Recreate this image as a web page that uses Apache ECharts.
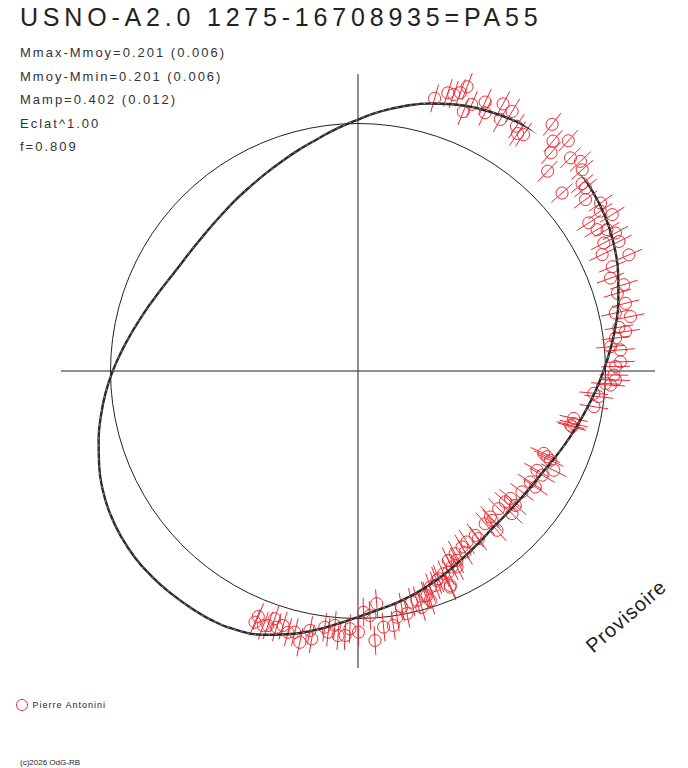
<!DOCTYPE html>
<html>
<head>
<meta charset="utf-8">
<title>USNO-A2.0 1275-16708935=PA55</title>
<script src="https://cdn.jsdelivr.net/npm/echarts@6.0.0/dist/echarts.min.js"></script>
<style>
	html, body {margin: 0; padding: 0; background: #fff;}
	#chart_polar {width: 688px; height: 768px;}
	/* the original plot spaces its letters out, svg text lets css do that */
	#chart_polar text[style*="25px"] {letter-spacing: 4.8px;}
	#chart_polar text[style*="13px"] {letter-spacing: 2px;}
	#chart_polar text[style*="20px"] {letter-spacing: 1px;}
	#chart_polar text[style*=" 9px"], #chart_polar text[style*=":9px"] {letter-spacing: 1px;}
</style>
</head>
<body>
<div id="chart_polar"></div>
<script>
var title_text = "USNO-A2.0 1275-16708935=PA55";
var stats_lines = ["Mmax-Mmoy=0.201 (0.006)", "Mmoy-Mmin=0.201 (0.006)", "Mamp=0.402 (0.012)", "Eclat^1.00", "f=0.809"];
var observer = "Pierre Antonini";
var credit = "(c)2026 OdG-RB";
var stamp = "Provisoire";

// fitted curve, phase in degrees, flux relative to the mean (circle = 1)
var curve_phase = [0, 5, 10, 15, 20, 25, 30, 35, 40, 45, 50, 55, 60, 65, 70, 75, 80, 85, 90,
	95, 100, 105, 110, 115, 120, 125, 130, 135, 140, 145, 150, 155, 160, 165, 170, 175, 180,
	185, 190, 195, 200, 205, 210, 215, 220, 225, 230, 235, 240, 245, 250, 255, 260, 265, 270,
	275, 280, 285, 290, 295, 300, 305, 310, 315, 320, 325, 330, 335, 340, 345, 350, 355, 360];
var curve_flux = [0.992, 1.024, 1.057, 1.089, 1.119, 1.147, 1.170, 1.187, 1.200, 1.208, 1.209, 1.200, 1.186, 1.168, 1.146, 1.119, 1.087, 1.053, 1.016,
	0.983, 0.951, 0.925, 0.901, 0.881, 0.864, 0.851, 0.840, 0.833, 0.830, 0.832, 0.838, 0.852, 0.872, 0.897, 0.925, 0.957, 0.991,
	1.024, 1.055, 1.085, 1.113, 1.138, 1.156, 1.168, 1.175, 1.176, 1.174, 1.171, 1.167, 1.155, 1.134, 1.101, 1.065, 1.028, 0.994,
	0.968, 0.947, 0.926, 0.905, 0.884, 0.864, 0.849, 0.837, 0.833, 0.834, 0.839, 0.848, 0.864, 0.885, 0.908, 0.933, 0.962, 0.992];

// observations (Pierre Antonini)
var obs_phase = [74.3, 72.1, 70.9, 69.8, 69.0, 67.9, 66.9, 64.7, 63.8, 61.5, 59.3, 60.5, 57.1, 56.1, 55.0, 51.8, 49.7, 47.6, 48.5, 45.1,
	43.3, 46.5, 41.9, 39.9, 38.8, 41.1, 37.0, 34.7, 33.4, 31.6, 32.7, 30.6, 29.6, 28.2, 27.5, 26.4, 25.5, 23.2,
	22.3, 20.2, 18.0, 16.7, 14.2, 12.7, 11.3, 9.5, 8.4, 7.3, 5.5, 4.6, 2.0, 1.0, 359.1, 358.0, 356.8, 357.1, 354.6, 353.9, 351.4, 347.6, 345.4,
	345.7, 346.3, 336.1, 335.6, 335.1, 333.1, 331.0, 330.5, 327.2, 326.8, 323.6, 320.1, 318.4, 319.5, 317.2, 315.6, 312.2, 311.9, 309.8, 311.1,
	305.5, 305.7, 302.5, 300.6, 300.6, 298.0, 297.6, 295.5, 295.6, 292.9, 290.6, 288.5, 293.3, 286.7,
	247.9, 247.7, 249.6, 250.5, 251.4, 252.4, 253.6, 255.0, 256.4, 257.9, 259.5, 260.2, 262.6, 263.5, 264.8, 265.7, 267.2, 268.2, 270.1,
	271.3, 272.8, 274.6, 273.6, 275.7, 277.9, 279.0, 280.5, 281.4, 283.1, 284.4, 285.1, 287.1, 287.5, 289.8, 291.2, 293.1, 294.2, 296.8];
var obs_flux = [1.144, 1.181, 1.182, 1.198, 1.230, 1.131, 1.171, 1.202, 1.163, 1.228, 1.220, 1.168, 1.178, 1.156, 1.166, 1.268, 1.218, 1.260, 1.177, 1.216,
	1.235, 1.113, 1.217, 1.180, 1.180, 1.094, 1.151, 1.192, 1.173, 1.206, 1.108, 1.122, 1.157, 1.180, 1.120, 1.177, 1.093, 1.191,
	1.111, 1.087, 1.129, 1.094, 1.115, 1.066, 1.123, 1.069, 1.093, 1.049, 1.025, 1.064, 1.061, 1.041, 1.034, 1.041, 1.022, 1.001, 0.957, 0.978, 0.964, 0.892, 0.894,
	0.886, 0.897, 0.821, 0.839, 0.857, 0.887, 0.827, 0.855, 0.828, 0.856, 0.823, 0.803, 0.796, 0.836, 0.848, 0.795, 0.796, 0.811, 0.803, 0.854,
	0.816, 0.834, 0.819, 0.826, 0.850, 0.836, 0.863, 0.848, 0.878, 0.889, 0.904, 0.921, 0.943, 0.947,
	1.071, 1.097, 1.098, 1.091, 1.056, 1.086, 1.072, 1.093, 1.086, 1.121, 1.066, 1.098, 1.044, 1.062, 1.032, 1.072, 1.070, 1.042, 1.055,
	0.975, 0.989, 0.943, 1.091, 1.040, 1.038, 1.007, 0.970, 1.000, 0.959, 0.957, 0.989, 0.949, 0.972, 0.921, 0.900, 0.949, 0.891, 0.887];
var obs_err = 0.058;

var red = "#ec2a32";
var ink = "#222";
var font = "Liberation Sans";

function pairs(radius, angle){
	var out = [];
	for (var i = 0; i < radius.length; i++) out.push([radius[i], angle[i]]);
	return out;
}

function render_obs(params, api){
	var r = api.value(0), a = api.value(1);
	var c = api.coord([r, a]);
	var p1 = api.coord([r - obs_err, a]);
	var p2 = api.coord([r + obs_err, a]);
	return {
		type: "group",
		children: [
			{type: "line", shape: {x1: p1[0], y1: p1[1], x2: p2[0], y2: p2[1]}, style: {stroke: red, lineWidth: 1}},
			{type: "circle", shape: {cx: c[0], cy: c[1], r: 6}, style: {fill: "none", stroke: red, lineWidth: 1}}
		]
	};
}

function init_polar_chart(){
	var myChart = echarts.init(document.getElementById("chart_polar"), null, {renderer: "svg"});

	var graphics = [
		{type: "text", left: 20, top: 4, style: {text: title_text, fontSize: 25, fontFamily: font, fill: ink}},
		{type: "text", left: 20, top: 758, style: {text: credit, fontSize: 8, fontFamily: font, fill: ink}},
		{type: "text", x: 626, y: 616, rotation: 41 * Math.PI / 180,
			style: {text: stamp, fontSize: 20, fontFamily: font, fill: ink, align: "center", verticalAlign: "middle"}}
	];
	for (var i = 0; i < stats_lines.length; i++){
		graphics.push({type: "text", left: 20, top: 46 + i * 23.5, style: {text: stats_lines[i], fontSize: 13, fontFamily: font, fill: "#333"}});
	}

	var options = {
		animation: false,
		backgroundColor: "#fff",
		graphic: graphics,
		legend: {
			left: 11, top: 694, itemWidth: 11, itemHeight: 11, icon: "circle",
			data: [observer], selectedMode: false,
			itemStyle: {color: "rgba(0,0,0,0)", borderColor: red, borderWidth: 1},
			textStyle: {fontSize: 9, fontFamily: font, color: ink}
		},
		polar: {center: [358, 371], radius: 297},
		angleAxis: {
			type: "value", min: 0, max: 360, interval: 90, startAngle: 0, clockwise: false,
			axisLine: {show: false}, axisTick: {show: false}, axisLabel: {show: false},
			splitLine: {show: true, lineStyle: {color: ink, width: 1}}
		},
		radiusAxis: {
			type: "value", min: 0, max: 1.2, interval: 1,
			axisLine: {show: false}, axisTick: {show: false}, axisLabel: {show: false},
			splitLine: {show: true, lineStyle: {color: ["rgba(0,0,0,0)", ink, "rgba(0,0,0,0)"], width: 1}}
		},
		series: [
			{name: "fit", type: "line", coordinateSystem: "polar", data: pairs(curve_flux, curve_phase),
				smooth: 0.5, showSymbol: false, clip: false, silent: true,
				lineStyle: {color: "#2a2a2a", width: 2.4}},
			{name: "fit_core", type: "line", coordinateSystem: "polar", data: pairs(curve_flux, curve_phase),
				smooth: 0.5, showSymbol: false, clip: false, silent: true,
				lineStyle: {color: "#fff", width: 0.6, type: [2, 5], opacity: 0.8}},
			{name: observer, type: "custom", coordinateSystem: "polar", data: pairs(obs_flux, obs_phase),
				renderItem: render_obs, clip: false, silent: true, itemStyle: {color: red}}
		]
	};

	myChart.setOption((options), true);
}

init_polar_chart();
</script>
</body>
</html>
